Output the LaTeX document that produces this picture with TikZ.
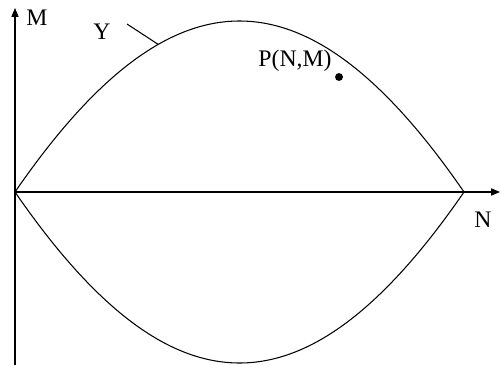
\documentclass[tikz,border=0pt]{standalone}
\usepackage{fontspec}
\setmainfont{Liberation Serif}
\usetikzlibrary{arrows.meta}

\begin{document}
\begin{tikzpicture}[
    x=0.02cm, y=-0.02cm,
    axis/.style={line width=0.6pt, -{Triangle[length=5pt, width=4pt]}},
    curve/.style={line width=0.6pt},
    lbl/.style={font=\fontsize{13.5}{16}\selectfont, inner sep=0pt},
]
    \useasboundingbox (0,0) rectangle (500,365);

    % Axes
    \coordinate (O) at (15,192);
    \coordinate (Mtop) at (15,8);
    \coordinate (Mbot) at (15,365);
    \coordinate (Nend) at (500,192);
    \coordinate (E) at (464,192);
    \draw[axis] (Mbot) -- (Mtop);
    \draw[axis] (O) -- (Nend);

    % Curves
    \draw[curve] (O) .. controls (172,-36) and (307,-36) .. (E)
        coordinate[pos=0.315] (yc);
    \draw[curve] (O) .. controls (172,420) and (307,420) .. (E);

    % Labels
    \node[lbl] (mlabel) at (37,18) {M};
    \node[lbl] (nlabel) at (483,220) {N};
    \node[lbl] (ylabel) at (102,32) {Y};
    \coordinate (ytick) at (127,24);
    \draw[curve] (ytick) -- (yc);
    \node[lbl] (plabel) at (295,61) {P(N,M)};
    \node[circle, fill, inner sep=0pt, minimum size=4.5pt] (pdot) at (339,77) {};
\end{tikzpicture}
\end{document}
